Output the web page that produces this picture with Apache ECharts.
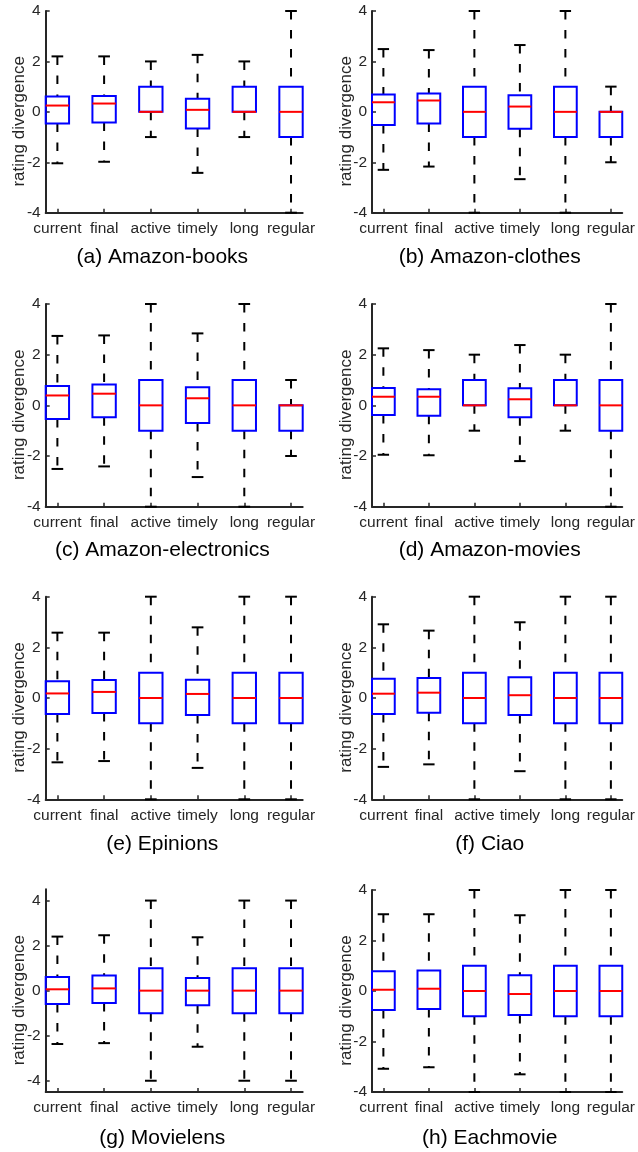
<!DOCTYPE html>
<html>
<head>
<meta charset="utf-8">
<script src="https://cdn.jsdelivr.net/npm/echarts@6/dist/echarts.min.js"></script>
<style>
html,body{margin:0;padding:0;background:#fff;}
#chart{width:638px;height:1152px;}
</style>
</head>
<body>
<div id="chart"></div>
<script>
// categories (x tick labels)
const categories = ['current', 'final', 'active', 'timely', 'long', 'regular'];
// y tick labels
const yTicks = [-4, -2, 0, 2, 4];
const yName = 'rating divergence';
// panel captions
const panelTitles = ['(a) Amazon-books', '(b) Amazon-clothes', '(c) Amazon-electronics', '(d) Amazon-movies',
  '(e) Epinions', '(f) Ciao', '(g) Movielens', '(h) Eachmovie'];

// each box: [lower whisker, Q1, median, Q3, upper whisker]
const amazonBooks = [[-2.04, -0.46, 0.25, 0.61, 2.20], [-1.98, -0.42, 0.33, 0.63, 2.20], [-1, 0, 0, 1, 2],
  [-2.42, -0.66, 0.08, 0.52, 2.26], [-1, 0, 0, 1, 2], [-4, -1, 0, 1, 4]];
const amazonClothes = [[-2.30, -0.52, 0.38, 0.69, 2.49], [-2.17, -0.46, 0.45, 0.73, 2.45], [-4, -1, 0, 1, 4],
  [-2.67, -0.67, 0.21, 0.66, 2.65], [-4, -1, 0, 1, 4], [-2, -1, 0, 0, 1]];
const amazonElectronics = [[-2.51, -0.54, 0.39, 0.76, 2.74], [-2.41, -0.47, 0.46, 0.82, 2.76], [-4, -1, 0, 1, 4],
  [-2.83, -0.70, 0.28, 0.71, 2.84], [-4, -1, 0, 1, 4], [-2, -1, 0, 0, 1]];
const amazonMovies = [[-1.95, -0.38, 0.34, 0.68, 2.25], [-1.97, -0.41, 0.34, 0.64, 2.18], [-1, 0, 0, 1, 2],
  [-2.20, -0.47, 0.24, 0.67, 2.38], [-1, 0, 0, 1, 2], [-4, -1, 0, 1, 4]];
const epinions = [[-2.54, -0.63, 0.18, 0.66, 2.58], [-2.49, -0.59, 0.24, 0.71, 2.58], [-4, -1, 0, 1, 4],
  [-2.76, -0.67, 0.16, 0.72, 2.79], [-4, -1, 0, 1, 4], [-4, -1, 0, 1, 4]];
const ciao = [[-2.72, -0.63, 0.17, 0.76, 2.91], [-2.62, -0.58, 0.21, 0.79, 2.66], [-4, -1, 0, 1, 4],
  [-2.89, -0.67, 0.11, 0.82, 2.99], [-4, -1, 0, 1, 4], [-4, -1, 0, 1, 4]];
const movielens = [[-2.37, -0.59, 0.06, 0.61, 2.40], [-2.33, -0.55, 0.10, 0.67, 2.46], [-4, -1, 0, 1, 4],
  [-2.49, -0.65, 0.00, 0.56, 2.37], [-4, -1, 0, 1, 4], [-4, -1, 0, 1, 4]];
const eachmovie = [[-3.08, -0.75, 0.05, 0.78, 3.04], [-3.02, -0.71, 0.09, 0.81, 3.04], [-4, -1, 0, 1, 4],
  [-3.30, -0.95, -0.12, 0.62, 3.00], [-4, -1, 0, 1, 4], [-4, -1, 0, 1, 4]];

const panelData = [amazonBooks, amazonClothes, amazonElectronics, amazonMovies, epinions, ciao, movielens, eachmovie];
// y-axis limits per panel
const yLimits = [[-4, 4], [-4, 4], [-4, 4], [-4, 4], [-4, 4], [-4, 4], [-4.5, 4.5], [-4, 4]];

// layout (pixels)
const colLeft = [45.7, 372];
const colWidth = [257, 257.7];
const gridRects = [
  [11, 201.7], [11, 201.7],
  [304, 202.7], [304, 202.7],
  [596.7, 202.6], [596.7, 202.6],
  [889.3, 202.7], [890, 202]
];
const titleX = [162.3, 489.7];
const titleY = [257, 550.7, 844, 1138];

const FONT = "'Liberation Sans', Arial, Helvetica, sans-serif";
const AX = '#262626';

const chart = echarts.init(document.getElementById('chart'), null, {renderer: 'canvas'});

function renderBox(params, api) {
  const x = api.value(0);
  const lo = api.coord([x, api.value(1)]);
  const q1 = api.coord([x, api.value(2)]);
  const med = api.coord([x, api.value(3)]);
  const q3 = api.coord([x, api.value(4)]);
  const hi = api.coord([x, api.value(5)]);
  const bw = api.size([0.5, 0])[0];
  const cw = api.size([0.25, 0])[0];
  const cx = lo[0];
  const dash = {stroke: '#000', lineWidth: 2, lineDash: [8.5, 10.5], fill: null};
  const solid = {stroke: '#000', lineWidth: 2, fill: null};
  const children = [];
  if (hi[1] < q3[1]) children.push({type: 'line', shape: {x1: cx, y1: hi[1], x2: cx, y2: q3[1]}, style: dash});
  if (lo[1] > q1[1]) children.push({type: 'line', shape: {x1: cx, y1: q1[1], x2: cx, y2: lo[1]}, style: dash});
  children.push({type: 'line', shape: {x1: cx - cw / 2, y1: hi[1], x2: cx + cw / 2, y2: hi[1]}, style: solid});
  children.push({type: 'line', shape: {x1: cx - cw / 2, y1: lo[1], x2: cx + cw / 2, y2: lo[1]}, style: solid});
  children.push({type: 'rect', shape: {x: cx - bw / 2, y: q3[1], width: bw, height: q1[1] - q3[1]},
    style: {stroke: '#0000ff', lineWidth: 2, fill: null}});
  children.push({type: 'line', shape: {x1: cx - bw / 2, y1: med[1], x2: cx + bw / 2, y2: med[1]},
    style: {stroke: '#ff0000', lineWidth: 2}});
  return {type: 'group', children: children};
}

const grids = [], xAxes = [], yAxes = [], series = [], graphics = [];
panelData.forEach((boxes, i) => {
  const col = i % 2, row = Math.floor(i / 2);
  const gTop = gridRects[i][0], gH = gridRects[i][1];
  grids.push({left: colLeft[col], top: gTop, width: colWidth[col], height: gH, containLabel: false});
  xAxes.push({
    type: 'value', gridIndex: i, min: 0.75, max: 6.25,
    axisLine: {onZero: false, lineStyle: {color: AX, width: 2}},
    axisTick: {show: true, inside: true, length: 4, customValues: [1, 2, 3, 4, 5, 6], lineStyle: {color: AX, width: 1.5}},
    axisLabel: {customValues: [1, 2, 3, 4, 5, 6], margin: 8, color: AX, fontSize: 15.5, fontFamily: FONT,
      formatter: v => categories[Math.round(v) - 1] || ''},
    splitLine: {show: false}
  });
  yAxes.push({
    type: 'value', gridIndex: i, min: yLimits[i][0], max: yLimits[i][1],
    axisLine: {onZero: false, lineStyle: {color: AX, width: 2}},
    axisTick: {show: true, inside: true, length: 4, customValues: yTicks, lineStyle: {color: AX, width: 1.5}},
    axisLabel: {customValues: yTicks, margin: 5, color: AX, fontSize: 15.5, fontFamily: FONT},
    splitLine: {show: false}
  });
  series.push({
    type: 'custom', xAxisIndex: i, yAxisIndex: i, clip: false,
    renderItem: renderBox,
    encode: {x: 0, y: [1, 2, 3, 4, 5]},
    data: boxes.map((b, k) => [k + 1].concat(b)),
    z: 3
  });
  graphics.push({
    type: 'text', x: colLeft[col] - 26, y: gTop + gH / 2 + 9.5, rotation: Math.PI / 2,
    style: {text: yName, fontSize: 17, fontFamily: FONT, fill: AX, align: 'center', verticalAlign: 'middle'}
  });
  graphics.push({
    type: 'text', x: titleX[col], y: titleY[row],
    style: {text: panelTitles[i], fontSize: 21, fontFamily: FONT, fill: '#000', align: 'center', verticalAlign: 'middle'}
  });
});

chart.setOption({
  animation: false,
  backgroundColor: '#fff',
  grid: grids,
  xAxis: xAxes,
  yAxis: yAxes,
  series: series,
  graphic: graphics
});
</script>
</body>
</html>
